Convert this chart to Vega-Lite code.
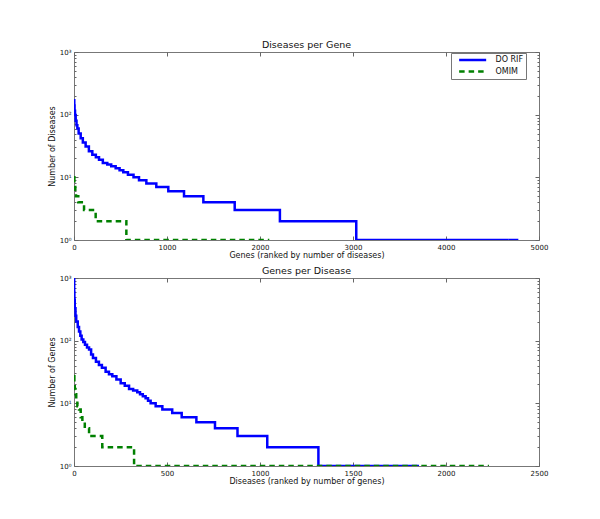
{
  "$schema": "https://vega.github.io/schema/vega-lite/v6.json",
  "padding": {"left": 47, "top": 39, "right": 5, "bottom": 5},
  "autosize": {"type": "pad"},
  "background": "white",
  "config": {
    "font": "DejaVu Sans",
    "view": {"stroke": "#777", "strokeWidth": 1},
    "axis": {"domain": false, "grid": false, "labelFontSize": 7, "labelColor": "#111", "titleFontSize": 8, "titleFontWeight": "normal", "titleColor": "#111", "tickColor": "#666", "tickSize": -4, "labelPadding": 7, "labelOverlap": false, "labelFlush": false},
    "title": {"fontSize": 9.5, "fontWeight": "normal", "offset": 0, "dy": 5.5, "color": "#111"},
    "legend": {"orient": "none", "legendX": 377, "legendY": 1, "title": null, "strokeColor": "#777", "padding": 2, "symbolType": "M0.34,0L8.4,0", "symbolSize": 45, "symbolStrokeWidth": 2.5, "labelFontSize": 8, "labelColor": "#111", "rowPadding": 1.5, "labelOffset": 32.5, "fillColor": "white", "labelExpr": "datum.label + '      '"},
    "concat": {"spacing": 5}
  },
  "datasets": {
    "top": [
      {"x": 0, "y": 170, "s": "DO RIF"}, {"x": 3, "y": 140, "s": "DO RIF"}, {"x": 6, "y": 115, "s": "DO RIF"}, {"x": 11, "y": 99, "s": "DO RIF"},
      {"x": 18, "y": 80, "s": "DO RIF"}, {"x": 27, "y": 68, "s": "DO RIF"}, {"x": 36, "y": 60, "s": "DO RIF"}, {"x": 50, "y": 50, "s": "DO RIF"},
      {"x": 72, "y": 42, "s": "DO RIF"}, {"x": 95, "y": 36, "s": "DO RIF"}, {"x": 125, "y": 31, "s": "DO RIF"}, {"x": 160, "y": 26, "s": "DO RIF"},
      {"x": 197, "y": 23, "s": "DO RIF"}, {"x": 235, "y": 21, "s": "DO RIF"}, {"x": 269, "y": 19, "s": "DO RIF"}, {"x": 310, "y": 17, "s": "DO RIF"},
      {"x": 358, "y": 16, "s": "DO RIF"}, {"x": 400, "y": 15, "s": "DO RIF"}, {"x": 448, "y": 14, "s": "DO RIF"}, {"x": 490, "y": 13, "s": "DO RIF"},
      {"x": 530, "y": 12, "s": "DO RIF"}, {"x": 580, "y": 11, "s": "DO RIF"}, {"x": 640, "y": 10, "s": "DO RIF"}, {"x": 699, "y": 9, "s": "DO RIF"},
      {"x": 778, "y": 8, "s": "DO RIF"}, {"x": 885, "y": 7, "s": "DO RIF"}, {"x": 1014, "y": 6, "s": "DO RIF"}, {"x": 1183, "y": 5, "s": "DO RIF"},
      {"x": 1391, "y": 4, "s": "DO RIF"}, {"x": 1728, "y": 3, "s": "DO RIF"}, {"x": 2214, "y": 2, "s": "DO RIF"}, {"x": 3035, "y": 1, "s": "DO RIF"},
      {"x": 4778, "y": 1, "s": "DO RIF"},
      {"x": 0, "y": 10, "s": "OMIM"}, {"x": 4, "y": 8, "s": "OMIM"}, {"x": 8, "y": 7, "s": "OMIM"}, {"x": 14, "y": 6, "s": "OMIM"},
      {"x": 22, "y": 5, "s": "OMIM"}, {"x": 46, "y": 4, "s": "OMIM"}, {"x": 108, "y": 3, "s": "OMIM"}, {"x": 233, "y": 2, "s": "OMIM"},
      {"x": 563, "y": 1, "s": "OMIM"}, {"x": 2100, "y": 1, "s": "OMIM"}
    ],
    "bottom": [
      {"x": 0, "y": 1000, "s": "DO RIF"}, {"x": 1, "y": 600, "s": "DO RIF"}, {"x": 2, "y": 450, "s": "DO RIF"}, {"x": 4, "y": 330, "s": "DO RIF"},
      {"x": 8, "y": 250, "s": "DO RIF"}, {"x": 12, "y": 203, "s": "DO RIF"}, {"x": 20, "y": 165, "s": "DO RIF"}, {"x": 27, "y": 140, "s": "DO RIF"},
      {"x": 34, "y": 120, "s": "DO RIF"}, {"x": 41, "y": 104, "s": "DO RIF"}, {"x": 50, "y": 95, "s": "DO RIF"}, {"x": 59, "y": 86, "s": "DO RIF"},
      {"x": 70, "y": 78, "s": "DO RIF"}, {"x": 81, "y": 72, "s": "DO RIF"}, {"x": 92, "y": 60, "s": "DO RIF"}, {"x": 102, "y": 53, "s": "DO RIF"},
      {"x": 118, "y": 46, "s": "DO RIF"}, {"x": 134, "y": 41, "s": "DO RIF"}, {"x": 150, "y": 37, "s": "DO RIF"}, {"x": 170, "y": 32, "s": "DO RIF"},
      {"x": 188, "y": 29, "s": "DO RIF"}, {"x": 206, "y": 27, "s": "DO RIF"}, {"x": 228, "y": 24, "s": "DO RIF"}, {"x": 251, "y": 21, "s": "DO RIF"},
      {"x": 273, "y": 19, "s": "DO RIF"}, {"x": 296, "y": 17, "s": "DO RIF"}, {"x": 318, "y": 16, "s": "DO RIF"}, {"x": 340, "y": 15, "s": "DO RIF"},
      {"x": 355, "y": 14, "s": "DO RIF"}, {"x": 370, "y": 13, "s": "DO RIF"}, {"x": 385, "y": 12, "s": "DO RIF"}, {"x": 398, "y": 11, "s": "DO RIF"},
      {"x": 412, "y": 10, "s": "DO RIF"}, {"x": 439, "y": 9, "s": "DO RIF"}, {"x": 475, "y": 8, "s": "DO RIF"}, {"x": 528, "y": 7, "s": "DO RIF"},
      {"x": 579, "y": 6, "s": "DO RIF"}, {"x": 658, "y": 5, "s": "DO RIF"}, {"x": 758, "y": 4, "s": "DO RIF"}, {"x": 879, "y": 3, "s": "DO RIF"},
      {"x": 1039, "y": 2, "s": "DO RIF"}, {"x": 1314, "y": 1, "s": "DO RIF"}, {"x": 1855, "y": 1, "s": "DO RIF"},
      {"x": 0, "y": 27, "s": "OMIM"}, {"x": 2, "y": 20, "s": "OMIM"}, {"x": 4, "y": 17, "s": "OMIM"}, {"x": 8, "y": 14, "s": "OMIM"},
      {"x": 12, "y": 11, "s": "OMIM"}, {"x": 18, "y": 9, "s": "OMIM"}, {"x": 27, "y": 8, "s": "OMIM"}, {"x": 36, "y": 6, "s": "OMIM"},
      {"x": 45, "y": 5, "s": "OMIM"}, {"x": 58, "y": 4, "s": "OMIM"}, {"x": 81, "y": 3, "s": "OMIM"}, {"x": 152, "y": 2, "s": "OMIM"},
      {"x": 323, "y": 1, "s": "OMIM"}, {"x": 2231, "y": 1, "s": "OMIM"}
    ]
  },
  "vconcat": [
    {
      "width": 465, "height": 188,
      "title": "Diseases per Gene",
      "data": {"name": "top"},
      "layer": [
        {
          "mark": {"type": "line", "interpolate": "step-after", "strokeWidth": 2.5, "clip": true},
          "encoding": {
            "x": {"field": "x", "type": "quantitative", "scale": {"domain": [0, 5000], "nice": false},
                  "axis": {"values": [0, 1000, 2000, 3000, 4000, 5000], "format": "d", "title": "Genes (ranked by number of diseases)", "titlePadding": 1}},
            "y": {"field": "y", "type": "quantitative", "scale": {"type": "log", "domain": [1, 1000], "nice": false},
                  "axis": {"values": [1,2,3,4,5,6,7,8,9,10,20,30,40,50,60,70,80,90,100,200,300,400,500,600,700,800,900,1000],
                           "labelExpr": "datum.value == 1 ? '10⁰' : datum.value == 10 ? '10¹' : datum.value == 100 ? '10²' : datum.value == 1000 ? '10³' : ''",
                           "tickSize": {"condition": {"test": "datum.value == 1 || datum.value == 10 || datum.value == 100 || datum.value == 1000", "value": -4}, "value": -2},
                           "title": "Number of Diseases", "titlePadding": 3}},
            "color": {"field": "s", "type": "nominal", "scale": {"domain": ["DO RIF", "OMIM"], "range": ["#0000ff", "#008000"]}, "legend": {"title": null}},
            "strokeDash": {"field": "s", "type": "nominal", "scale": {"domain": ["DO RIF", "OMIM"], "range": [[1, 0], [5.5, 4]]}, "legend": {"title": null}}
          }
        },
        {
          "mark": {"type": "line", "opacity": 0},
          "encoding": {
            "x": {"field": "x", "type": "quantitative", "axis": {"orient": "top", "values": [0, 1000, 2000, 3000, 4000, 5000], "labels": false, "title": null}},
            "y": {"field": "y", "type": "quantitative",
                  "axis": {"orient": "right", "values": [1,2,3,4,5,6,7,8,9,10,20,30,40,50,60,70,80,90,100,200,300,400,500,600,700,800,900,1000], "labels": false, "title": null,
                           "tickSize": {"condition": {"test": "datum.value == 1 || datum.value == 10 || datum.value == 100 || datum.value == 1000", "value": -4}, "value": -2}}}
          }
        }
      ],
      "resolve": {"axis": {"x": "independent", "y": "independent"}}
    },
    {
      "width": 465, "height": 188,
      "title": "Genes per Disease",
      "data": {"name": "bottom"},
      "layer": [
        {
          "mark": {"type": "line", "interpolate": "step-after", "strokeWidth": 2.5, "clip": true},
          "encoding": {
            "x": {"field": "x", "type": "quantitative", "scale": {"domain": [0, 2500], "nice": false},
                  "axis": {"values": [0, 500, 1000, 1500, 2000, 2500], "format": "d", "title": "Diseases (ranked by number of genes)", "titlePadding": 1}},
            "y": {"field": "y", "type": "quantitative", "scale": {"type": "log", "domain": [1, 1000], "nice": false},
                  "axis": {"values": [1,2,3,4,5,6,7,8,9,10,20,30,40,50,60,70,80,90,100,200,300,400,500,600,700,800,900,1000],
                           "labelExpr": "datum.value == 1 ? '10⁰' : datum.value == 10 ? '10¹' : datum.value == 100 ? '10²' : datum.value == 1000 ? '10³' : ''",
                           "tickSize": {"condition": {"test": "datum.value == 1 || datum.value == 10 || datum.value == 100 || datum.value == 1000", "value": -4}, "value": -2},
                           "title": "Number of Genes", "titlePadding": 3}},
            "color": {"field": "s", "type": "nominal", "scale": {"domain": ["DO RIF", "OMIM"], "range": ["#0000ff", "#008000"]}, "legend": null},
            "strokeDash": {"field": "s", "type": "nominal", "scale": {"domain": ["DO RIF", "OMIM"], "range": [[1, 0], [5.5, 4]]}, "legend": null}
          }
        },
        {
          "mark": {"type": "line", "opacity": 0},
          "encoding": {
            "x": {"field": "x", "type": "quantitative", "axis": {"orient": "top", "values": [0, 500, 1000, 1500, 2000, 2500], "labels": false, "title": null}},
            "y": {"field": "y", "type": "quantitative",
                  "axis": {"orient": "right", "values": [1,2,3,4,5,6,7,8,9,10,20,30,40,50,60,70,80,90,100,200,300,400,500,600,700,800,900,1000], "labels": false, "title": null,
                           "tickSize": {"condition": {"test": "datum.value == 1 || datum.value == 10 || datum.value == 100 || datum.value == 1000", "value": -4}, "value": -2}}}
          }
        }
      ],
      "resolve": {"axis": {"x": "independent", "y": "independent"}}
    }
  ],
  "resolve": {"scale": {"color": "independent", "strokeDash": "independent"}, "legend": {"color": "independent", "strokeDash": "independent"}}
}
